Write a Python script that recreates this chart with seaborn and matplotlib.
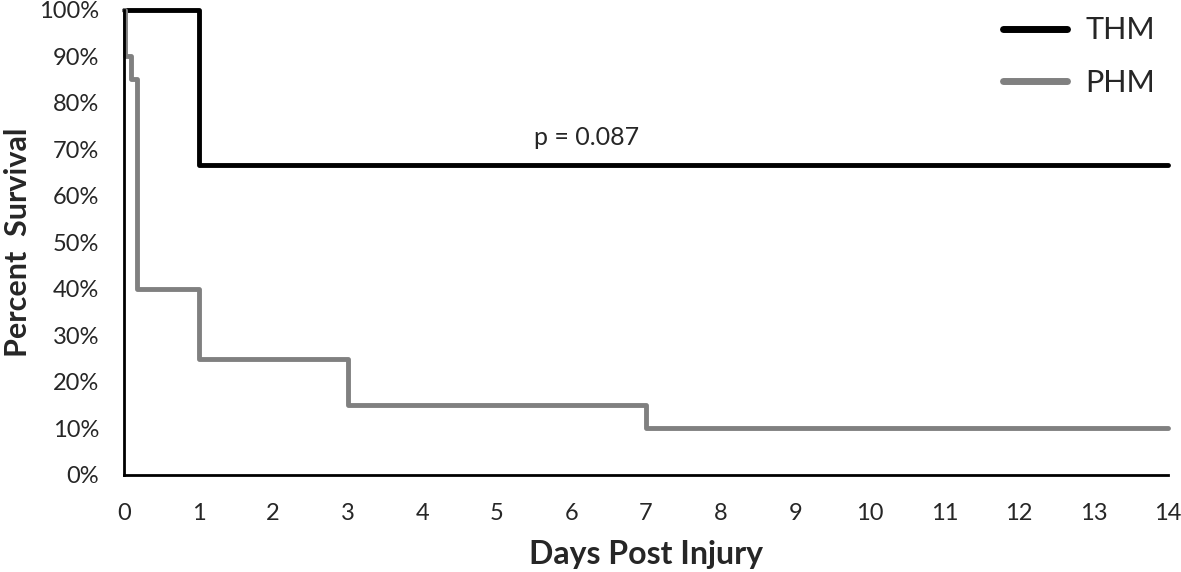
import matplotlib
matplotlib.use('Agg')
import matplotlib.pyplot as plt
import matplotlib.ticker as mtick
import pandas as pd
import seaborn as sns

# survival data (days, percent surviving)
thm_days = [0, 1, 14]
thm_surv = [100, 66.7, 66.7]
phm_days = [0, 0.02, 0.1, 0.18, 1, 3, 7, 14]
phm_surv = [100, 90, 85, 40, 25, 15, 10, 10]

x_ticks = list(range(0, 15))
y_ticks = list(range(0, 101, 10))
p_label = 'p = 0.087'

df = pd.concat([
    pd.DataFrame({'day': thm_days, 'surv': thm_surv, 'group': 'THM'}),
    pd.DataFrame({'day': phm_days, 'surv': phm_surv, 'group': 'PHM'}),
], ignore_index=True)

sns.set_style('white')
plt.rcParams['font.family'] = ['Lato', 'DejaVu Sans']

fig = plt.figure(figsize=(11.81, 5.72), dpi=100)
ax = fig.add_axes([0.105, 0.17, 0.884, 0.813])

colors = {'THM': '#000000', 'PHM': '#808080'}
sns.lineplot(data=df, x='day', y='surv', hue='group', palette=colors,
             drawstyle='steps-post', linewidth=3.5, ax=ax, legend=True,
             solid_joinstyle='round', solid_capstyle='round')
for line in ax.get_lines():
    line.set_clip_on(False)

ax.set_xlim(0, 14)
ax.set_ylim(0, 100)
ax.set_xticks(x_ticks)
ax.set_yticks(y_ticks)
ax.yaxis.set_major_formatter(mtick.PercentFormatter(decimals=0))
ax.tick_params(axis='both', length=0, labelsize=17)
ax.tick_params(axis='x', pad=20)
ax.tick_params(axis='y', pad=18)

ax.set_xlabel('Days Post Injury', fontsize=23, fontweight='bold', labelpad=12)
ax.set_ylabel('Percent  Survival', fontsize=22, fontweight='bold')
ax.yaxis.set_label_coords(-0.088, 0.5)

for s in ['top', 'right']:
    ax.spines[s].set_visible(False)
for s in ['left', 'bottom']:
    ax.spines[s].set_color('black')
    ax.spines[s].set_linewidth(2)

ax.text(6.2, 72.5, p_label, fontsize=18, ha='center', va='center')

leg = ax.legend(loc='upper right', frameon=False, fontsize=22,
                handlelength=2.1, labelspacing=0.8, handletextpad=0.6,
                bbox_to_anchor=(1.014, 1.045))
for line in leg.get_lines():
    line.set_linewidth(5)

fig.savefig('out.png', dpi=100)
